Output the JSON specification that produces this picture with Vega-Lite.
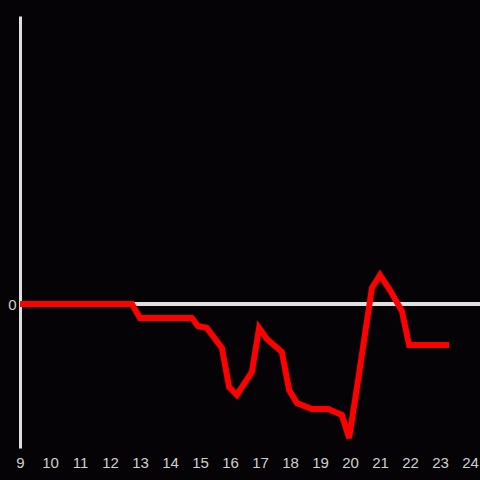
{
  "$schema": "https://vega.github.io/schema/vega-lite/v6.json",
  "autosize": {"type": "none"},
  "width": 460,
  "height": 432,
  "padding": {"left": 20, "top": 16, "right": 0, "bottom": 32},
  "background": "#050306",
  "config": {"view": {"stroke": null}, "font": "Liberation Sans"},
  "data": {"values": [
    {"t": 9.0, "v": 0},
    {"t": 12.73, "v": 0},
    {"t": 13.0, "v": -14},
    {"t": 14.73, "v": -14},
    {"t": 14.93, "v": -22},
    {"t": 15.23, "v": -24},
    {"t": 15.73, "v": -44},
    {"t": 15.97, "v": -83},
    {"t": 16.23, "v": -91},
    {"t": 16.73, "v": -68},
    {"t": 16.97, "v": -24},
    {"t": 17.23, "v": -35},
    {"t": 17.73, "v": -48},
    {"t": 17.97, "v": -86},
    {"t": 18.23, "v": -99},
    {"t": 18.73, "v": -105},
    {"t": 19.27, "v": -105},
    {"t": 19.73, "v": -111},
    {"t": 19.97, "v": -134},
    {"t": 20.27, "v": -76},
    {"t": 20.73, "v": 16},
    {"t": 21.0, "v": 29},
    {"t": 21.33, "v": 14},
    {"t": 21.73, "v": -7},
    {"t": 21.97, "v": -41},
    {"t": 23.3, "v": -41}
  ]},
  "layer": [
    {
      "mark": {"type": "rule", "color": "#e0e0e0", "strokeWidth": 3},
      "encoding": {"y": {"datum": 0}}
    },
    {
      "mark": {"type": "line", "color": "#ff0000", "strokeWidth": 6, "strokeJoin": "miter", "strokeCap": "butt"},
      "encoding": {
        "x": {"field": "t", "type": "quantitative",
          "scale": {"domain": [9, 24.333], "nice": false, "zero": false},
          "axis": {"title": null, "values": [9,10,11,12,13,14,15,16,17,18,19,20,21,22,23,24], "domain": false, "ticks": false, "grid": false, "labelColor": "#d0d0d0", "labelFontSize": 15, "labelPadding": 7, "labelFlush": false, "labelOverlap": false}},
        "y": {"field": "v", "type": "quantitative",
          "scale": {"domain": [-144, 288], "nice": false, "zero": false},
          "axis": {"title": null, "values": [0], "domainColor": "#e0e0e0", "domainWidth": 3, "ticks": false, "grid": false, "labelColor": "#d0d0d0", "labelFontSize": 15, "labelPadding": 4}}
      }
    }
  ]
}
